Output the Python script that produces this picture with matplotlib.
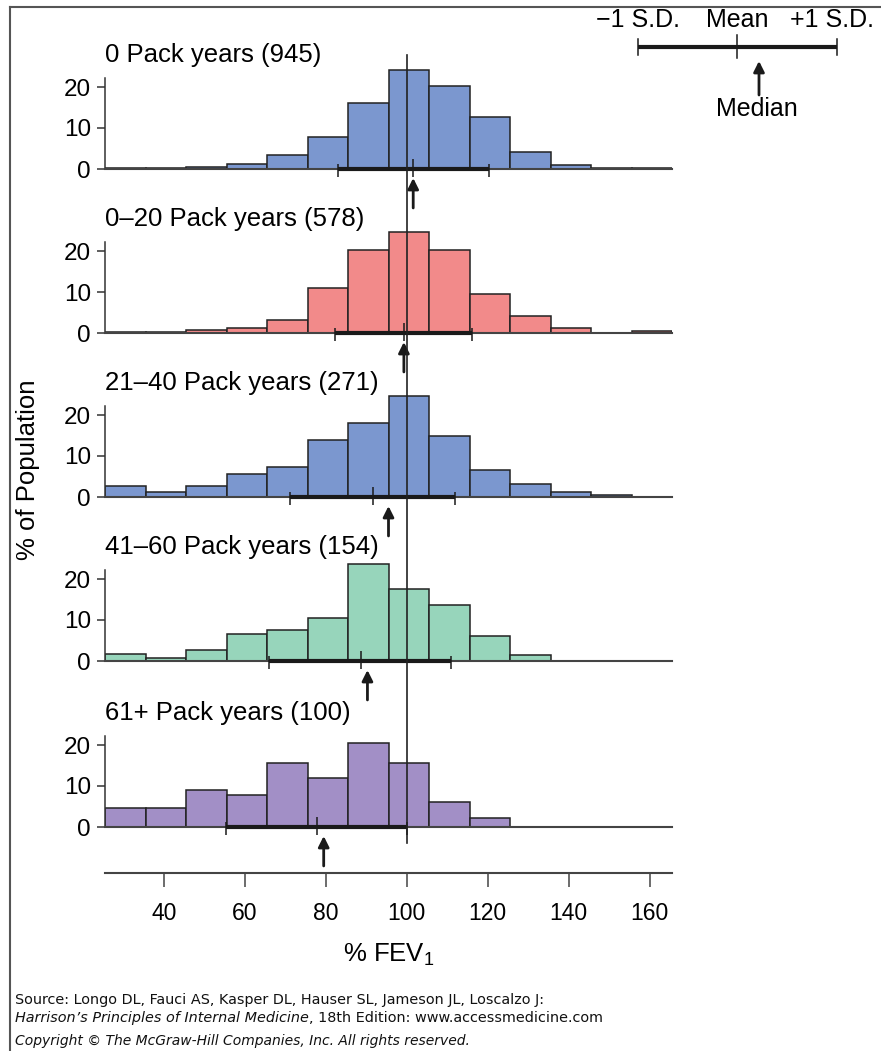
import numpy as np
import matplotlib.pyplot as plt

plt.rcParams['font.family'] = ['Liberation Sans', 'DejaVu Sans']
plt.rcParams['mathtext.fontset'] = 'custom'
plt.rcParams['mathtext.rm'] = 'Liberation Sans'
plt.rcParams['mathtext.it'] = 'Liberation Sans:italic'

# left edges of the 10-unit FEV1 bins
bin_left = [25.5, 35.5, 45.5, 55.5, 65.5, 75.5, 85.5, 95.5,
            105.5, 115.5, 125.5, 135.5, 145.5, 155.5]

# % of population per bin, one list per smoking group
pct_0 = [0.3, 0.3, 0.6, 1.2, 3.5, 7.8, 16.2, 24.2, 20.3, 12.8, 4.2, 0.9, 0.3, 0.3]
pct_0_20 = [0.3, 0.3, 0.7, 1.2, 3.1, 11.0, 20.3, 24.7, 20.2, 9.4, 4.1, 1.2, 0.1, 0.5]
pct_21_40 = [2.8, 1.1, 2.8, 5.6, 7.4, 13.8, 18.0, 24.6, 15.0, 6.6, 3.1, 1.1, 0.5, 0.0]
pct_41_60 = [1.8, 0.7, 2.7, 6.6, 7.6, 10.5, 23.7, 17.6, 13.6, 6.2, 1.5, 0.1, 0.0, 0.0]
pct_61 = [4.7, 4.7, 9.0, 7.8, 15.6, 12.0, 20.6, 15.5, 6.2, 2.3, 0.0, 0.0, 0.0, 0.0]

titles = ['0 Pack years (945)', '0\u201320 Pack years (578)', '21\u201340 Pack years (271)',
          '41\u201360 Pack years (154)', '61+ Pack years (100)']
colors = ['#7b97cf', '#f28a8a', '#7b97cf', '#97d5bb', '#a28fc6']
series = [pct_0, pct_0_20, pct_21_40, pct_41_60, pct_61]

# -1 SD, mean, +1 SD, median
sd_lo = [83.0, 82.2, 71.2, 66.0, 55.3]
means = [101.6, 99.4, 91.7, 88.6, 77.8]
sd_hi = [120.3, 116.0, 111.9, 110.9, 100.1]
medians = [101.6, 99.3, 95.5, 90.3, 79.5]

xticks = [40, 60, 80, 100, 120, 140, 160]

W, H = 881, 1051
fig = plt.figure(figsize=(W / 100, H / 100), dpi=100)


def px_axes(x0, ytop, w, h):
    return fig.add_axes([x0 / W, 1 - (ytop + h) / H, w / W, h / H])


x0, x1 = 105, 672
xmin, xmax = 25.5, 165.5
unit = 4.1
zero_y = [169, 333, 497, 661, 827]
dark = '#1a1a1a'

for i in range(5):
    top = zero_y[i] - 25 * unit
    ax = px_axes(x0, top, x1 - x0, 35 * unit)
    ax.set_xlim(xmin, xmax)
    ax.set_ylim(-10, 25)
    ax.patch.set_visible(False)
    ax.bar(bin_left, series[i], width=10, align='edge', color=colors[i],
           edgecolor='#222222', linewidth=1.1, zorder=2)
    for s in ['top', 'right']:
        ax.spines[s].set_visible(False)
    ax.spines['bottom'].set_position(('data', 0))
    ax.spines['bottom'].set_color('#444444')
    ax.spines['bottom'].set_linewidth(1.5)
    ax.spines['left'].set_bounds(0, 22.3)
    ax.spines['left'].set_color('#333333')
    ax.spines['left'].set_linewidth(1.1)
    ax.set_xticks([])
    ax.set_yticks([0, 10, 20])
    ax.tick_params(axis='y', length=6, width=1.1, color='#333333', labelsize=17.5, pad=4)
    # SD bar, mean tick and median arrow
    ax.plot([sd_lo[i], sd_hi[i]], [0, 0], color=dark, lw=3.0, solid_capstyle='butt', zorder=4)
    ax.vlines([sd_lo[i], sd_hi[i]], -2.0, 1.2, color=dark, lw=1.1, zorder=4)
    ax.vlines(means[i], -2.0, 2.4, color=dark, lw=1.1, zorder=4)
    ax.annotate('', xy=(medians[i], -2.2), xytext=(medians[i], -9.5),
                arrowprops=dict(arrowstyle='-|>', color=dark, lw=2.0, mutation_scale=16,
                                shrinkA=0, shrinkB=0), annotation_clip=False)
    ax.text(xmin, 27.8, titles[i], ha='left', va='center', fontsize=18.5)

# reference line at 100 % FEV1 through all panels
ov = px_axes(x0, 0, x1 - x0, H)
ov.set_xlim(xmin, xmax)
ov.set_ylim(H, 0)
ov.axis('off')
ov.plot([100, 100], [55, 843], color='#222222', lw=1.2)

# common x axis
axx = px_axes(x0, 860, x1 - x0, 13)
axx.set_xlim(xmin, xmax)
axx.patch.set_visible(False)
for s in ['top', 'right', 'left']:
    axx.spines[s].set_visible(False)
axx.spines['bottom'].set_color('#444444')
axx.spines['bottom'].set_linewidth(1.5)
axx.set_yticks([])
axx.set_xticks(xticks)
axx.tick_params(axis='x', length=10, width=1.1, color='#444444', labelsize=16.5, pad=11)
axx.set_xlabel('% FEV$_1$', fontsize=18.5, labelpad=12)

# whole-figure overlay in pixel coordinates: frame, legend, labels
fa = px_axes(0, 0, W, H)
fa.set_xlim(0, W)
fa.set_ylim(H, 0)
fa.axis('off')
fa.plot([10, W], [7, 7], color='#555555', lw=1.5)
fa.plot([10, 10], [7, H], color='#555555', lw=1.5)

fa.text(28, 470, '% of Population', rotation=90, ha='center', va='center', fontsize=18.5)

fa.text(638, 20, '\u22121 S.D.', ha='center', va='center', fontsize=18)
fa.text(737, 20, 'Mean', ha='center', va='center', fontsize=18)
fa.text(832, 20, '+1 S.D.', ha='center', va='center', fontsize=18)
fa.plot([638, 837], [47, 47], color=dark, lw=3.0, solid_capstyle='butt')
fa.plot([638, 638], [39, 55], color=dark, lw=1.1)
fa.plot([837, 837], [39, 55], color=dark, lw=1.1)
fa.plot([737, 737], [35, 58], color=dark, lw=1.1)
fa.annotate('', xy=(759, 61), xytext=(759, 95),
            arrowprops=dict(arrowstyle='-|>', color=dark, lw=2.0, mutation_scale=16,
                            shrinkA=0, shrinkB=0))
fa.text(757, 109, 'Median', ha='center', va='center', fontsize=18)

src_kw = dict(family='DejaVu Sans', fontsize=10.4, va='center', ha='left', color='#111111')
fa.text(15, 1000, 'Source: Longo DL, Fauci AS, Kasper DL, Hauser SL, Jameson JL, Loscalzo J:', **src_kw)
t1 = fa.text(15, 1018, 'Harrison\u2019s Principles of Internal Medicine', style='italic', **src_kw)
fig.canvas.draw()
bb = t1.get_window_extent()
xend = fa.transData.inverted().transform((bb.x1, bb.y0))[0]
fa.text(xend, 1018, ', 18th Edition: www.accessmedicine.com', **src_kw)
copy_kw = dict(src_kw, fontsize=10.0)
fa.text(15, 1041, 'Copyright \u00a9 The McGraw-Hill Companies, Inc. All rights reserved.',
        style='italic', **copy_kw)

fig.savefig('out.png', dpi=100)
